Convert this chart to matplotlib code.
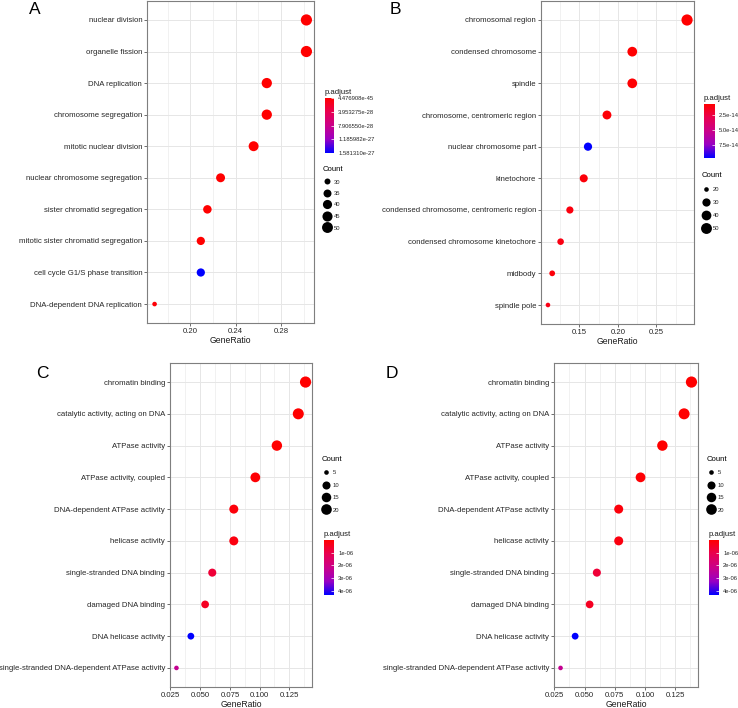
import numpy as np
import matplotlib
matplotlib.use("Agg")
import matplotlib.pyplot as plt
from matplotlib.colors import LinearSegmentedColormap, Normalize
from matplotlib.cm import ScalarMappable
from matplotlib.lines import Line2D
from matplotlib.ticker import MultipleLocator, FormatStrFormatter

plt.rcParams['font.family'] = ['Liberation Sans', 'DejaVu Sans']

# ---- data ----
A_terms = ["nuclear division", "organelle fission", "DNA replication", "chromosome segregation",
           "mitotic nuclear division", "nuclear chromosome segregation", "sister chromatid segregation",
           "mitotic sister chromatid segregation", "cell cycle G1/S phase transition",
           "DNA-dependent DNA replication"]
A_ratio = [0.3023, 0.3023, 0.2674, 0.2674, 0.2558, 0.2267, 0.2151, 0.2093, 0.2093, 0.1686]
A_count = [52, 52, 46, 46, 44, 39, 37, 36, 36, 29]
A_padj = [4.476908e-45, 1.2e-44, 3.5e-37, 2.1e-36, 8.0e-35, 5.5e-33, 2.4e-31, 6.1e-30, 1.581310e-27, 3.3e-29]

B_terms = ["chromosomal region", "condensed chromosome", "spindle", "chromosome, centromeric region",
           "nuclear chromosome part", "kinetochore", "condensed chromosome, centromeric region",
           "condensed chromosome kinetochore", "midbody", "spindle pole"]
B_ratio = [0.2896, 0.2186, 0.2186, 0.1858, 0.1612, 0.1557, 0.1377, 0.1257, 0.1148, 0.1093]
B_count = [53, 40, 40, 34, 30, 29, 25, 23, 21, 20]
B_padj = [6.0e-15, 6.5e-15, 7.0e-15, 8.0e-15, 9.6e-14, 8.5e-15, 1.0e-14, 1.1e-14, 9.0e-15, 1.2e-14]

C_terms = ["chromatin binding", "catalytic activity, acting on DNA", "ATPase activity",
           "ATPase activity, coupled", "DNA-dependent ATPase activity", "helicase activity",
           "single-stranded DNA binding", "damaged DNA binding", "DNA helicase activity",
           "single-stranded DNA-dependent ATPase activity"]
C_ratio = [0.1386, 0.1325, 0.1145, 0.0964, 0.0783, 0.0783, 0.0602, 0.0542, 0.0422, 0.0301]
C_count = [23, 22, 19, 16, 13, 13, 10, 9, 7, 5]
C_padj = [1.2e-09, 3.5e-09, 8.8e-09, 6.4e-08, 1.5e-07, 2.1e-07, 7.5e-07, 4.6e-07, 4.35e-06, 2.3e-06]

# panel D shows the same result as C
D_terms, D_ratio, D_count, D_padj = C_terms, C_ratio, C_count, C_padj

A_size_breaks = [30, 35, 40, 45, 50]
B_size_breaks = [20, 30, 40, 50]
C_size_breaks = [5, 10, 15, 20]
B_col_breaks = [2.5e-14, 5.0e-14, 7.5e-14]
C_col_breaks = [1e-06, 2e-06, 3e-06, 4e-06]

# red -> blue ramp (approximating ggplot's Lab interpolation)
cmap = LinearSegmentedColormap.from_list(
    "padj", ["#FF0000", "#E80050", "#CA0089", "#9A00C2", "#0000FF"])

W, H = 738, 708
fig = plt.figure(figsize=(W / 100, H / 100), dpi=100)
PX = 0.72  # points per pixel


def px_axes(l, t, r, b):
    return fig.add_axes([l / W, 1 - b / H, (r - l) / W, (b - t) / H])


def dot_size(c, cmin, cmax, dmin=4.6, dmax=11.2):
    c = np.asarray(c, dtype=float)
    d = dmin + (dmax - dmin) * np.sqrt((c - cmin) / (cmax - cmin))
    return d * PX  # diameter in points


def dotplot(box, terms, ratio, count, padj, major, minor, fmt, size_breaks, col_breaks,
            col_fmt, cbar_box, count_anchor, leg_space, letter, letter_xy):
    ax = px_axes(*box)
    y = np.arange(len(terms))
    cmin, cmax = min(count), max(count)
    norm = Normalize(min(padj), max(padj))
    d = dot_size(count, cmin, cmax)
    ax.scatter(ratio, y, s=d ** 2, c=padj, cmap=cmap, norm=norm, edgecolors='none', zorder=3)
    ax.set_ylim(len(terms) - 0.4, -0.6)
    ax.margins(x=0.05)
    ax.set_yticks(y)
    ax.set_yticklabels(terms)
    ax.xaxis.set_major_locator(MultipleLocator(major))
    ax.xaxis.set_minor_locator(MultipleLocator(minor))
    ax.xaxis.set_major_formatter(FormatStrFormatter(fmt))
    ax.grid(True, which='major', color='#E6E6E6', lw=0.7, zorder=0)
    ax.grid(True, which='minor', axis='x', color='#E6E6E6', lw=0.4, zorder=0)
    ax.set_axisbelow(True)
    ax.tick_params(which='major', length=2, width=0.5, color='#333333', labelsize=5.6,
                   labelcolor='#262626', pad=1.5)
    ax.tick_params(which='minor', length=0)
    for s in ax.spines.values():
        s.set_color('#7F7F7F')
        s.set_linewidth(0.8)
    ax.set_xlabel("GeneRatio", fontsize=6.2, labelpad=0.8, color='#1A1A1A')

    # colour bar
    l, t, r, b = cbar_box
    fig.text(l / W, 1 - (t - 6) / H, "p.adjust", fontsize=5.6, va='center', ha='left',
             color='#1A1A1A')
    cax = px_axes(l, t, r, b)
    cb = fig.colorbar(ScalarMappable(norm=norm, cmap=cmap), cax=cax)
    cb.outline.set_visible(False)
    cax.invert_yaxis()
    cb.set_ticks(col_breaks)
    cb.set_ticklabels([col_fmt % v for v in col_breaks])
    cax.tick_params(length=2, width=0.5, color='white', direction='in', labelsize=4.2,
                    labelcolor='#262626', pad=3)

    # size legend
    handles = [Line2D([], [], ls='', marker='o', color='black', markeredgewidth=0,
                      markersize=float(dot_size(v, cmin, cmax)), label=str(v))
               for v in size_breaks]
    leg = ax.legend(handles=handles, title="Count", loc='upper left',
                    bbox_to_anchor=(count_anchor[0] / W, 1 - count_anchor[1] / H),
                    bbox_transform=fig.transFigure, frameon=False, fontsize=4.2,
                    title_fontsize=5.6, labelspacing=leg_space, handlelength=1.2,
                    handletextpad=0.6, borderpad=0, borderaxespad=0, alignment='left')
    for txt in leg.get_texts():
        txt.set_color('#262626')

    fig.text(letter_xy[0] / W, 1 - letter_xy[1] / H, letter, fontsize=12.5, ha='left', va='top')
    return ax


dotplot((147, 1, 314, 323), A_terms, A_ratio, A_count, A_padj, 0.04, 0.02, '%.2f',
        A_size_breaks, np.linspace(min(A_padj), max(A_padj), 5), '%.6e',
        (325, 98, 334, 153), (323, 166), 1.1, "A", (29, 2))
dotplot((541, 1, 694, 324), B_terms, B_ratio, B_count, B_padj, 0.05, 0.025, '%.2f',
        B_size_breaks, B_col_breaks, '%.1e',
        (704, 104, 715, 158), (702, 172), 1.35, "B", (390, 2))
dotplot((170, 363, 312, 687), C_terms, C_ratio, C_count, C_padj, 0.025, 0.0125, '%.3f',
        C_size_breaks, C_col_breaks, '%.0e',
        (324, 540, 334, 595), (322, 456), 1.25, "C", (36, 366))
dotplot((554, 363, 698, 687), D_terms, D_ratio, D_count, D_padj, 0.025, 0.0125, '%.3f',
        C_size_breaks, C_col_breaks, '%.0e',
        (709, 540, 719, 595), (707, 456), 1.25, "D", (386, 366))

fig.savefig("out.png", dpi=100, facecolor='white')
